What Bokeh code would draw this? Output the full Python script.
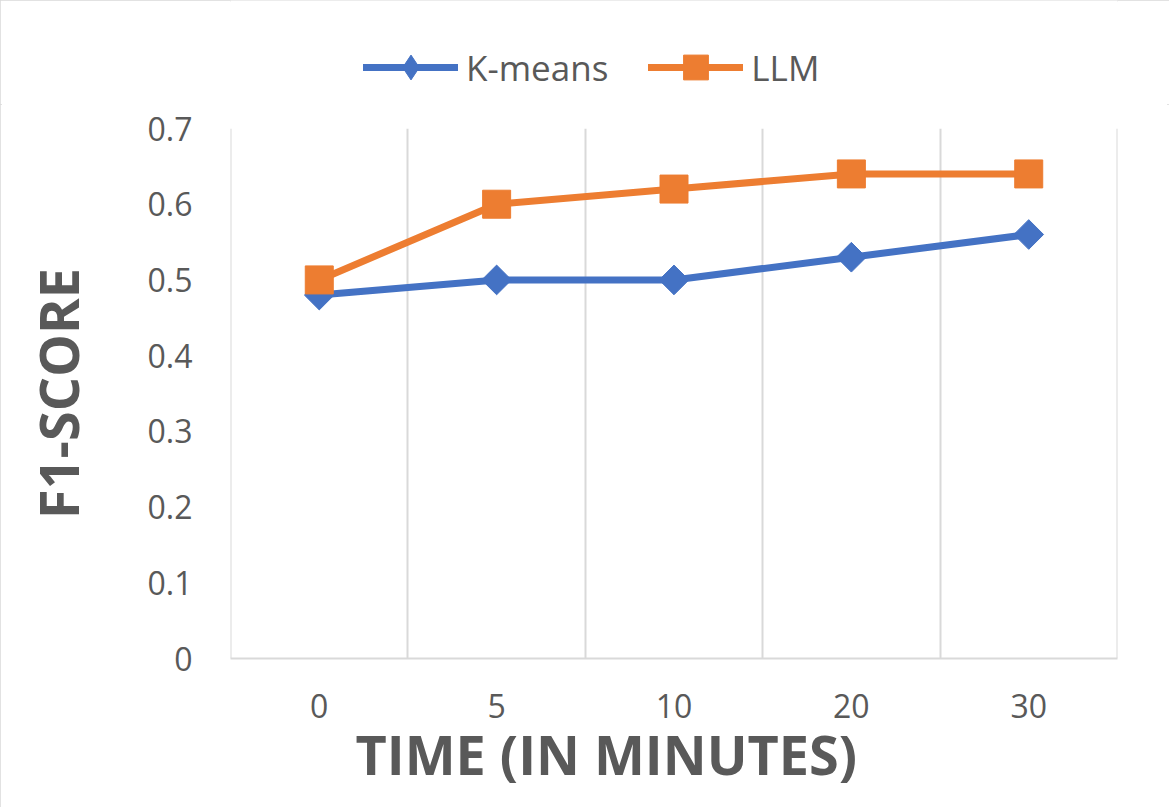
import numpy as np
from bokeh.plotting import figure
from bokeh.layouts import column
from bokeh.models import FactorRange, Range1d, FixedTicker, Legend, LegendItem, Title
from bokeh.embed import file_html
from bokeh.resources import INLINE

# ---- data ----
categories = ["0", "5", "10", "20", "30"]
kmeans = [0.48, 0.50, 0.50, 0.53, 0.56]
llm = [0.50, 0.60, 0.62, 0.64, 0.64]
y_ticks = [0, 0.1, 0.2, 0.3, 0.4, 0.5, 0.6, 0.7]
y_tick_labels = ["0", "0.1", "0.2", "0.3", "0.4", "0.5", "0.6", "0.7"]
series_names = ["K-means", "LLM"]
x_title = "TIME (IN MINUTES)"
y_title = "F1-SCORE"

BLUE = "#4472C4"
ORANGE = "#ED7D31"
GRID = "#D9D9D9"
TEXT = "#595959"
FONT = "Open Sans"

W = 1169
TOP_H = 104
MAIN_H = 807 - TOP_H

# ---------------- main plot ----------------
p = figure(width=W, height=MAIN_H,
           x_range=FactorRange(*categories, range_padding=0.0002),
           y_range=Range1d(0, 0.7),
           output_backend="svg", toolbar_location=None,
           min_border_left=230, min_border_right=52,
           min_border_top=128 - TOP_H, min_border_bottom=149)
p.outline_line_color = None
p.background_fill_color = "white"
p.border_fill_color = "white"

p.ygrid.visible = False
p.xgrid.ticker = FixedTicker(ticks=list(range(len(categories) + 1)))
p.xgrid.grid_line_color = GRID
p.xgrid.grid_line_width = 2

xa = p.xaxis[0]
xa.axis_line_color = GRID
xa.axis_line_width = 2
xa.major_tick_line_color = None
xa.minor_tick_line_color = None
xa.major_tick_out = 0
xa.major_tick_in = 0
xa.major_label_text_font = FONT
xa.major_label_text_font_size = "32px"
xa.major_label_text_color = TEXT
xa.major_label_standoff = 35

ya = p.yaxis[0]
ya.ticker = FixedTicker(ticks=y_ticks)
ya.major_label_overrides = {t: l for t, l in zip(y_ticks, y_tick_labels)}
ya.axis_line_color = None
ya.major_tick_line_color = None
ya.minor_tick_line_color = None
ya.major_tick_out = 0
ya.major_tick_in = 0
ya.major_label_text_font = FONT
ya.major_label_text_font_size = "32px"
ya.major_label_text_color = TEXT
ya.major_label_standoff = 38
ya.axis_label = y_title
ya.axis_label_text_font = FONT
ya.axis_label_text_font_size = "54px"
ya.axis_label_text_font_style = "bold"
ya.axis_label_text_color = TEXT
ya.axis_label_standoff = 50

p.line(categories, kmeans, line_color=BLUE, line_width=7,
       line_join="round", line_cap="round")
p.scatter(categories, kmeans, marker="square", angle=np.pi / 4, size=21,
          fill_color=BLUE, line_color=BLUE)
p.line(categories, llm, line_color=ORANGE, line_width=7,
       line_join="round", line_cap="round")
p.scatter(categories, llm, marker="square", size=28,
          fill_color=ORANGE, line_color=ORANGE)

xt = Title(text=x_title, align="left", offset=125, vertical_align="top",
           text_font=FONT, text_font_size="54px", text_font_style="bold",
           text_color=TEXT, standoff=0)
try:
    xt.standoff = -8
except Exception:
    pass
p.add_layout(xt, "below")

# ---------------- legend strip (series drawn outside its visible range) ----------------
pl = figure(width=W, height=TOP_H,
            x_range=FactorRange(*categories), y_range=Range1d(10, 11),
            x_axis_type=None, y_axis_type=None,
            output_backend="svg", toolbar_location=None,
            min_border=0, min_border_left=0, min_border_right=0,
            min_border_top=0, min_border_bottom=0)
pl.outline_line_color = None
pl.grid.visible = False
pl.background_fill_color = "white"
pl.border_fill_color = "white"
k1 = pl.line(categories, kmeans, line_color=BLUE, line_width=7, line_cap="round")
k2 = pl.scatter(categories, kmeans, marker="diamond", size=25,
                fill_color=BLUE, line_color=BLUE)
l1 = pl.line(categories, llm, line_color=ORANGE, line_width=7, line_cap="round")
l2 = pl.scatter(categories, llm, marker="square", size=25,
                fill_color=ORANGE, line_color=ORANGE)

legend = Legend(items=[LegendItem(label=series_names[0], renderers=[k1, k2]),
                       LegendItem(label=series_names[1], renderers=[l1, l2])],
                orientation="horizontal", location=(133, TOP_H - 98))
legend.glyph_width = 95
legend.glyph_height = 62
legend.label_height = 62
legend.label_standoff = 8
legend.spacing = 40
legend.padding = 0
legend.margin = 0
legend.border_line_color = None
legend.background_fill_alpha = 0
legend.label_text_font = FONT
legend.label_text_font_size = "35px"
legend.label_text_color = TEXT
legend.label_text_baseline = "middle"
pl.add_layout(legend, "center")

layout = column(pl, p, spacing=0,
                styles={"outline": "2px solid #D9D9D9", "outline-offset": "-2px"})

open("out.html", "w").write(file_html(layout, INLINE))
